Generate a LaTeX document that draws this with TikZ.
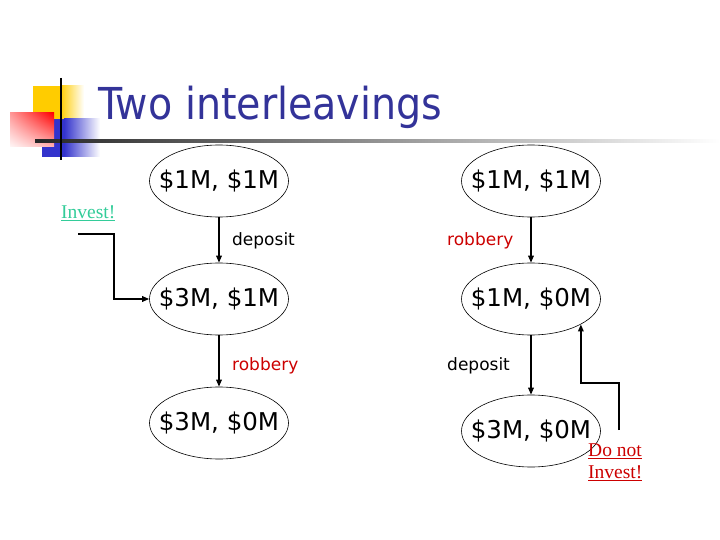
\documentclass[tikz,border=0pt]{standalone}
\usepackage{fontspec}
\setmainfont{DejaVu Sans}
\newfontfamily\titlefont{DejaVu Sans}[FakeStretch=0.9]
\newfontfamily\serifnote{Liberation Serif}
\usetikzlibrary{arrows.meta,shapes.geometric,shadings}
\definecolor{titleblue}{RGB}{51,51,153}
\definecolor{decoyellow}{RGB}{255,204,0}
\definecolor{decoblue}{RGB}{51,51,204}
\definecolor{robred}{RGB}{204,0,0}
\definecolor{investgreen}{RGB}{51,204,153}
\newcommand{\sttext}[1]{\makebox[0pt]{#1}}
\tikzset{
  state/.style={ellipse,draw,line width=0.6bp,minimum width=139bp,minimum height=72bp,inner sep=0pt,
    font=\fontsize{24.5bp}{28bp}\selectfont},
  trans/.style={line width=1.6bp,-{Triangle[length=7bp,width=5.5bp]}},
  lbl/.style={anchor=west,inner sep=0pt,font=\fontsize{17bp}{20bp}\selectfont},
  note/.style={inner sep=0pt,font=\serifnote\fontsize{19.5bp}{21bp}\selectfont,align=left}
}
\begin{document}
\begin{tikzpicture}[x=1bp,y=-1bp]
\useasboundingbox (0,0) rectangle (720,540);
% decorations
\fill[decoyellow] (33,86) rectangle (60,119);
\shade[left color=decoyellow,right color=white] (60,86) rectangle (84,119);
\fill[decoblue] (42,119) rectangle (64,157);
\shade[left color=decoblue,right color=white] (64,119) rectangle (100,157);
\shade[upper right=red,upper left=red!40,lower right=red!30,lower left=red!3] (10,113) rectangle (54,147);
\shade[left color=black!85,right color=white] (35,140) rectangle (720,142.5);
\draw[line width=2bp] (61,78) -- (61,160);
% title
\node[anchor=base west,inner sep=0pt,text=titleblue,font=\titlefont\fontsize{44bp}{50bp}\selectfont] (title) at (98,120) {Two interleavings};
% states
\node[state] (l1) at (219,181) {\sttext{\$1M, \$1M}};
\node[state] (l2) at (219,299) {\sttext{\$3M, \$1M}};
\node[state] (l3) at (219,423) {\sttext{\$3M, \$0M}};
\node[state] (r1) at (531,181) {\sttext{\$1M, \$1M}};
\node[state] (r2) at (531,299) {\sttext{\$1M, \$0M}};
\node[state] (r3) at (531,431) {\sttext{\$3M, \$0M}};
% transitions
\draw[trans] (l1) -- (l2);
\draw[trans] (l2) -- (l3);
\draw[trans] (r1) -- (r2);
\draw[trans] (r2) -- (r3);
\node[lbl] (ld) at (232,241) {deposit};
\node[lbl,text=robred] (lr) at (232,366) {robbery};
\node[lbl,text=robred] (rr) at (447,241) {robbery};
\node[lbl] (rd) at (447,366) {deposit};
% notes
\node[note,anchor=west,text=investgreen] (inv) at (61,213) {\underline{Invest!}};
\coordinate (i1) at (78,234);
\draw[trans] (i1) -- (114,234) |- (l2.west);
\node[note,anchor=north west,text=robred] (dni) at (588,444) {\underline{Do not}\\[1pt]\underline{Invest!}};
\coordinate (d1) at (619,430);
\draw[trans] (d1) -- (619,383) -| (r2.-27.4);
\end{tikzpicture}
\end{document}
